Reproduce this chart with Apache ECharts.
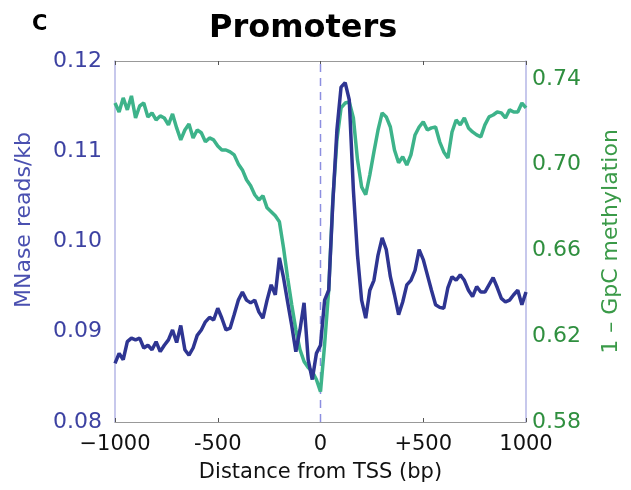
<!DOCTYPE html>
<html>
<head>
<meta charset="utf-8">
<script src="https://cdn.jsdelivr.net/npm/echarts@6/dist/echarts.min.js"></script>
<style>html,body{margin:0;padding:0;background:#fff;}#c{width:631px;height:490px;}</style>
</head>
<body>
<div id="c"></div>
<script>
// Distance from TSS (bp), sample positions
const positions = [-1000,-980,-960,-940,-920,-900,-880,-860,-840,-820,-800,-780,-760,-740,-720,-700,-680,-660,-640,-620,
-600,-580,-560,-540,-520,-500,-480,-460,-440,-420,-400,-380,-360,-340,-320,-300,-280,-260,-240,-220,
-200,-180,-160,-140,-120,-100,-80,-60,-40,-20,0,20,40,60,80,100,120,140,160,180,
200,220,240,260,280,300,320,340,360,380,400,420,440,460,480,500,520,540,560,580,
600,620,640,660,680,700,720,740,760,780,800,820,840,860,880,900,920,940,960,980,1000];

// MNase reads/kb (left axis)
const mnase = [0.0865,0.0876,0.0869,0.0889,0.0893,0.0891,0.0893,0.0882,0.0885,0.0880,
0.0889,0.0878,0.0885,0.0891,0.0902,0.0888,0.0907,0.0880,0.0874,0.0882,
0.0896,0.0902,0.0911,0.0916,0.0913,0.0926,0.0915,0.0902,0.0904,0.0919,
0.0935,0.0944,0.0935,0.0932,0.0935,0.0922,0.0915,0.0935,0.0952,0.0941,
0.0982,0.0960,0.0933,0.0907,0.0878,0.0902,0.0932,0.0869,0.0847,0.0876,
0.0885,0.0935,0.0946,0.1043,0.1124,0.1171,0.1176,0.1157,0.1057,0.0985,
0.0935,0.0915,0.0946,0.0957,0.0985,0.1004,0.0991,0.0961,0.0941,0.0919,
0.0933,0.0952,0.0957,0.0968,0.0991,0.0980,0.0963,0.0946,0.0930,0.0927,
0.0926,0.0949,0.0961,0.0957,0.0963,0.0957,0.0946,0.0939,0.0950,0.0944,
0.0944,0.0952,0.0960,0.0949,0.0937,0.0933,0.0935,0.0941,0.0946,0.0930,0.0944];

// 1 - GpC methylation (right axis)
const gpc = [0.7288,0.7246,0.7312,0.7256,0.7321,0.7218,0.7274,0.7288,0.7223,0.7242,
0.7209,0.7228,0.7218,0.7186,0.7237,0.7172,0.7116,0.7162,0.7190,0.7125,
0.7162,0.7149,0.7107,0.7125,0.7116,0.7088,0.7069,0.7069,0.7060,0.7046,
0.7004,0.6976,0.6930,0.6902,0.6860,0.6836,0.6855,0.6799,0.6781,0.6762,
0.6734,0.6613,0.6473,0.6347,0.6231,0.6138,0.6082,0.6054,0.6035,0.5998,
0.5942,0.6161,0.6417,0.6836,0.7116,0.7265,0.7288,0.7293,0.7218,0.7023,
0.6897,0.6860,0.6953,0.7060,0.7162,0.7242,0.7223,0.7176,0.7069,0.7009,
0.7037,0.6999,0.7046,0.7139,0.7176,0.7200,0.7162,0.7172,0.7176,0.7107,
0.7060,0.7032,0.7153,0.7209,0.7186,0.7218,0.7172,0.7153,0.7139,0.7130,
0.7186,0.7223,0.7232,0.7246,0.7242,0.7218,0.7256,0.7246,0.7246,0.7288,0.7265];

const xTicks = {'-1000':'\u22121000','-500':'-500','0':'0','500':'+500','1000':'1000'};
const tssPosition = 0;

const FONT = '"DejaVu Sans", Verdana, sans-serif';
const BLUE = '#2e3592';
const GREEN = '#3db38a';

const Y1 = {min:0.08, max:0.12};
const Y2 = {min:0.58, max:0.7484};

const chart = echarts.init(document.getElementById('c'), null, {renderer:'canvas'});
chart.setOption({
  animation:false,
  backgroundColor:'#fff',
  title:{text:'Promoters', left:204, top:8,
    textStyle:{fontFamily:FONT, fontWeight:'bold', fontSize:32, color:'#000'}},
  graphic:[
    {type:'text', left:32, top:14, style:{text:'C', font:'bold 21px '+FONT, fill:'#000'}},
    {type:'text', x:24, y:220, rotation:Math.PI/2,
      style:{text:'MNase reads/kb', font:'22px '+FONT, fill:'#4a50b0', textAlign:'center', textVerticalAlign:'middle'}}
  ],
  grid:{left:115, right:105, top:61, bottom:68, containLabel:false},
  xAxis:[{
    type:'value', min:-1000, max:1000, interval:500, position:'bottom',
    name:'Distance from TSS (bp)', nameLocation:'middle', nameGap:40,
    nameTextStyle:{fontFamily:FONT, fontSize:21, color:'#111'},
    axisLine:{onZero:false, lineStyle:{color:'#999', width:1}},
    axisTick:{inside:true, length:4, lineStyle:{color:'#555'}},
    axisLabel:{fontFamily:FONT, fontSize:21, color:'#111', margin:12,
      formatter:v=>xTicks[String(v)] ?? String(v)},
    splitLine:{show:false}
  },{
    type:'value', min:-1000, max:1000, interval:500, position:'top',
    axisLine:{onZero:false, lineStyle:{color:'#999', width:1}},
    axisTick:{inside:true, length:4, lineStyle:{color:'#555'}},
    axisLabel:{show:false}, splitLine:{show:false}
  }],
  yAxis:[{
    type:'value', min:Y1.min, max:Y1.max, interval:0.01, position:'left',
    axisLine:{show:true, onZero:false, lineStyle:{color:'#b4b6e6', width:1.5}},
    axisTick:{show:false},
    axisLabel:{fontFamily:FONT, fontSize:22, color:'#3d42a2', margin:13, formatter:v=>v.toFixed(2)},
    splitLine:{show:false}
  },{
    type:'value', min:Y2.min, max:Y2.max, interval:0.04, position:'right',
    name:'1 \u2013 GpC methylation', nameLocation:'middle', nameGap:74,
    nameTextStyle:{fontFamily:FONT, fontSize:22, color:'#3a9a48'},
    axisLine:{show:true, onZero:false, lineStyle:{color:'#b4b6e6', width:1.5}},
    axisTick:{show:false},
    axisLabel:{fontFamily:FONT, fontSize:22, color:'#2f8f3f', margin:6, showMaxLabel:false,
      formatter:v=>v.toFixed(2)},
    splitLine:{show:false}
  }],
  series:[{
    name:'TSS', type:'line', yAxisIndex:0, showSymbol:false, silent:true,
    data:[[tssPosition,Y1.min],[tssPosition,Y1.max]],
    lineStyle:{color:'#8c8fe0', type:[8,6], width:1.5}
  },{
    type:'line', yAxisIndex:1, showSymbol:false,
    data:positions.map((p,i)=>[p,gpc[i]]),
    lineStyle:{color:GREEN, width:3.5}, itemStyle:{color:GREEN}
  },{
    type:'line', yAxisIndex:0, showSymbol:false,
    data:positions.map((p,i)=>[p,mnase[i]]),
    lineStyle:{color:BLUE, width:3.5}, itemStyle:{color:BLUE}
  }]
});
</script>
</body>
</html>
